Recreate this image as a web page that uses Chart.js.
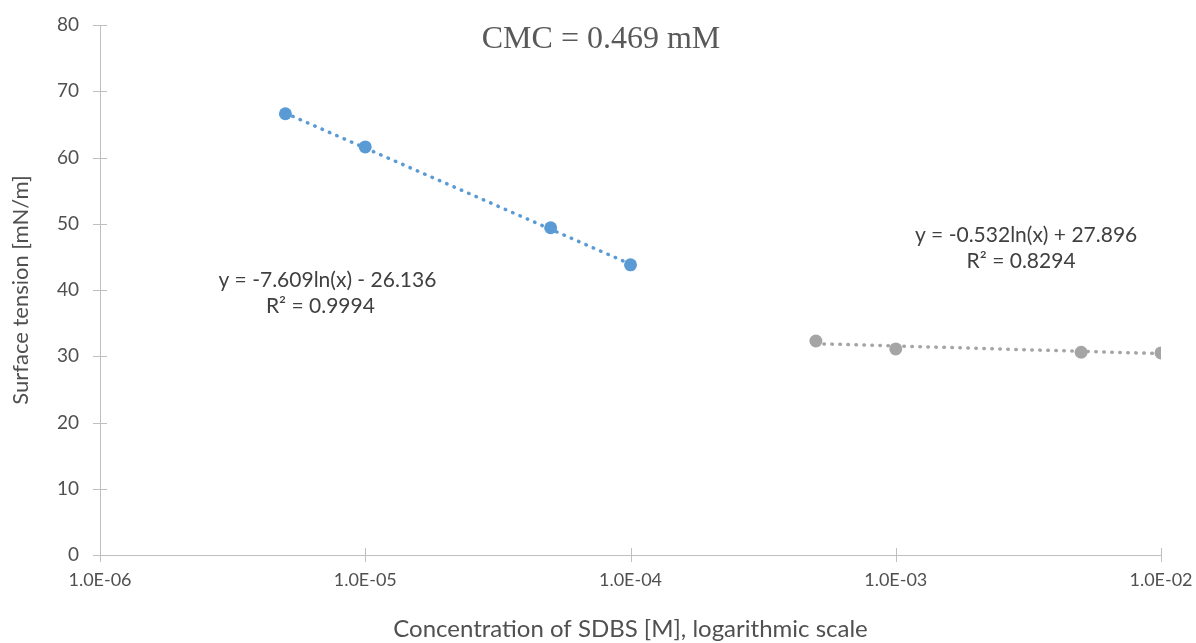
<!DOCTYPE html>
<html>
<head>
<meta charset="utf-8">
<script src="https://cdn.jsdelivr.net/npm/chart.js@4"></script>
<style>
  html, body { margin: 0; padding: 0; background: #fff; }
  #wrap { width: 1196px; height: 643px; position: relative; }
</style>
</head>
<body>
<div id="wrap"><canvas id="cmcChart"></canvas></div>
<script>
/*** Data ***/
const concBelow = [5e-6, 1e-5, 5e-5, 1e-4];
const tensionBelow = [66.6, 61.6, 49.4, 43.8];
const concAbove = [5e-4, 1e-3, 5e-3, 1e-2];
const tensionAbove = [32.3, 31.1, 30.6, 30.5];

// trend line end points
const trendBelowX = [5e-6, 1e-4];
const trendBelowY = [66.7, 43.9];
const trendAboveX = [5e-4, 1e-2];
const trendAboveY = [31.9, 30.4];

const xTickValues = [1e-6, 1e-5, 1e-4, 1e-3, 1e-2];
const yTickValues = [0, 10, 20, 30, 40, 50, 60, 70, 80];

const chartTitle = 'CMC = 0.469 mM';
const eqBelow = ['y = -7.609ln(x) - 26.136', 'R² = 0.9994'];
const eqAbove = ['y = -0.532ln(x) + 27.896', 'R² = 0.8294'];

/*** Colours ***/
const blue = 'rgb(91, 155, 213)';
const grey = 'rgb(165, 165, 165)';
const axisGrey = 'rgb(191, 191, 191)';
const textGrey = 'rgb(80, 80, 80)';

function pairs(xs, ys) {
    return xs.map(function (x, i) { return { x: x, y: ys[i] }; });
}

function sciLabel(v) {
    var exp = Math.round(Math.log10(v));
    var mant = v / Math.pow(10, exp);
    var sign = exp < 0 ? '-' : '+';
    var e = Math.abs(exp);
    return mant.toFixed(1) + 'E' + sign + (e < 10 ? '0' + e : e);
}

/*** Plugins: crossing tick marks and text labels ***/
const crossTicks = {
    id: 'crossTicks',
    afterDraw: function (chart) {
        const ctx = chart.ctx;
        const xs = chart.scales.x, ys = chart.scales.y;
        ctx.save();
        ctx.strokeStyle = axisGrey;
        ctx.lineWidth = 1;
        yTickValues.forEach(function (v) {
            const py = Math.round(ys.getPixelForValue(v)) + 0.5;
            ctx.beginPath();
            ctx.moveTo(xs.left - 7, py);
            ctx.lineTo(xs.left + 7, py);
            ctx.stroke();
        });
        xTickValues.forEach(function (v) {
            const px = Math.round(xs.getPixelForValue(v)) + 0.5;
            ctx.beginPath();
            ctx.moveTo(px, ys.bottom - 7);
            ctx.lineTo(px, ys.bottom + 7);
            ctx.stroke();
        });
        ctx.restore();
    }
};

const textLabels = {
    id: 'textLabels',
    afterDraw: function (chart) {
        const ctx = chart.ctx;
        const xs = chart.scales.x, ys = chart.scales.y;
        ctx.save();
        ctx.textAlign = 'center';
        ctx.textBaseline = 'middle';

        ctx.fillStyle = 'rgb(89, 89, 89)';
        ctx.font = '32px "Liberation Serif"';
        ctx.fillText(chartTitle, 601, 40);

        ctx.fillStyle = 'rgb(64, 64, 64)';
        ctx.font = '21px Lato';
        var bx = xs.getPixelForValue(7.2e-6), by = ys.getPixelForValue(41.5);
        ctx.fillText(eqBelow[0], bx, by);
        ctx.fillText(eqBelow[1], bx - 7, by + 26);

        var gx = xs.getPixelForValue(3.1e-3), gy = ys.getPixelForValue(48.2);
        ctx.fillText(eqAbove[0], gx, gy);
        ctx.fillText(eqAbove[1], gx - 5, gy + 26);
        ctx.restore();
    }
};

/*** Chart ***/
Chart.defaults.font.family = 'Lato';
Chart.defaults.color = textGrey;

const cmcChart = new Chart(document.getElementById('cmcChart'), {
    type: 'scatter',
    data: {
        datasets: [
            {
                label: 'Trend below CMC',
                data: pairs(trendBelowX, trendBelowY),
                showLine: true,
                borderColor: blue,
                borderWidth: 3.5,
                borderDash: [0.5, 7.5],
                borderCapStyle: 'round',
                pointRadius: 0
            },
            {
                label: 'Trend above CMC',
                data: pairs(trendAboveX, trendAboveY),
                showLine: true,
                borderColor: grey,
                borderWidth: 3.5,
                borderDash: [0.5, 7.5],
                borderCapStyle: 'round',
                pointRadius: 0
            },
            {
                label: 'Below CMC',
                data: pairs(concBelow, tensionBelow),
                backgroundColor: blue,
                borderColor: blue,
                pointRadius: 6.5,
                pointBorderWidth: 0
            },
            {
                label: 'Above CMC',
                data: pairs(concAbove, tensionAbove),
                backgroundColor: grey,
                borderColor: grey,
                pointRadius: 6.5,
                pointBorderWidth: 0
            }
        ]
    },
    options: {
        responsive: true,
        maintainAspectRatio: false,
        animation: false,
        layout: {
            padding: { top: 25, right: 35, left: 0, bottom: 0 }
        },
        plugins: {
            legend: { display: false },
            tooltip: { enabled: false }
        },
        scales: {
            x: {
                type: 'logarithmic',
                min: 1e-6,
                max: 1e-2,
                afterBuildTicks: function (scale) {
                    scale.ticks = xTickValues.map(function (v) { return { value: v }; });
                },
                afterFit: function (scale) {
                    scale.height = 88;
                    scale.paddingLeft = 0;
                    scale.paddingRight = 0;
                },
                grid: { display: false, drawTicks: false },
                border: { color: axisGrey, width: 1 },
                ticks: {
                    padding: 14,
                    autoSkip: false,
                    maxRotation: 0,
                    font: { size: 18 },
                    color: textGrey,
                    callback: function (value) { return sciLabel(value); }
                },
                title: {
                    display: true,
                    text: 'Concentration of SDBS [M], logarithmic scale',
                    font: { size: 24 },
                    color: textGrey,
                    padding: { top: 15, bottom: -1 }
                }
            },
            y: {
                min: 0,
                max: 80,
                afterFit: function (scale) {
                    scale.width = 100;
                    scale.paddingTop = 0;
                    scale.paddingBottom = 0;
                },
                grid: { display: false, drawTicks: false },
                border: { color: axisGrey, width: 1 },
                ticks: {
                    stepSize: 10,
                    padding: 21,
                    font: { size: 19 },
                    color: textGrey
                },
                title: {
                    display: true,
                    text: 'Surface tension [mN/m]',
                    font: { size: 22 },
                    color: textGrey,
                    padding: { top: 8, bottom: 4 }
                }
            }
        }
    },
    plugins: [crossTicks, textLabels]
});
</script>
</body>
</html>
